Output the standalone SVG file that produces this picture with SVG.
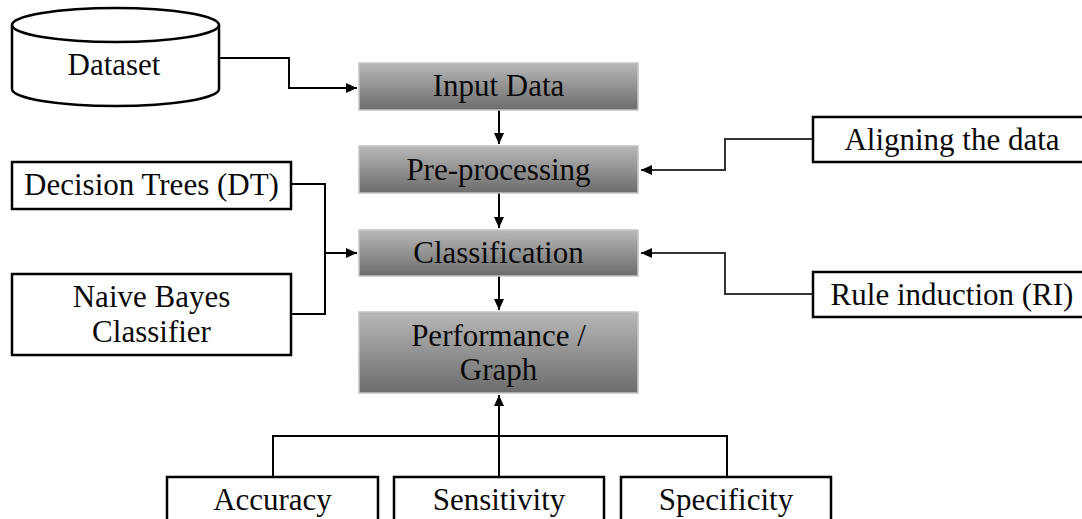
<svg xmlns="http://www.w3.org/2000/svg" width="1082" height="519" viewBox="0 0 1082 519">
<style>
.box{fill:#fff;stroke:#000;stroke-width:2.5}
.gbox{fill:url(#g);stroke:#c4c4c4;stroke-width:1.5}
.t{font-family:"Liberation Serif","Times New Roman",serif;font-size:31px;fill:#0a0a0a;text-anchor:middle}
.c{fill:none;stroke:#000;stroke-width:2}
.c2{fill:none;stroke:#333;stroke-width:2}
</style>
<defs>
<linearGradient id="g" x1="0" y1="0" x2="0" y2="1">
<stop offset="0" stop-color="#b8b8b8"/>
<stop offset="1" stop-color="#6c6c6c"/>
</linearGradient>
<marker id="a" markerUnits="userSpaceOnUse" markerWidth="12" markerHeight="10" refX="11" refY="5" orient="auto">
<path d="M0,0 L11,5 L0,10 Z" fill="#000"/>
</marker>
</defs>
<g id="connectors">
<path class="c" d="M219,58 H289 V88 H357" marker-end="url(#a)"/>
<path class="c" d="M499,110 V144" marker-end="url(#a)"/>
<path class="c2" d="M813,139 H725 V170 H641" marker-end="url(#a)"/>
<path class="c" d="M499,193 V228" marker-end="url(#a)"/>
<path class="c" d="M291,184 H325 V314 H291"/>
<path class="c" d="M325,253 H357" marker-end="url(#a)"/>
<path class="c2" d="M813,294 H725 V253 H641" marker-end="url(#a)"/>
<path class="c" d="M499,276 V310" marker-end="url(#a)"/>
<path class="c" d="M273,477 V436 H727 V477"/>
<path class="c" d="M499,477 V395" marker-end="url(#a)"/>
</g>
<g id="dataset">
<path class="box" d="M12,25 V89 A103.5,17 0 0 0 219,89 V25 A103.5,17 0 0 0 12,25 Z"/>
<path class="box" style="fill:none" d="M12,25 A103.5,17 0 0 0 219,25"/>
<text class="t" x="114" y="75">Dataset</text>
</g>
<g id="input-data">
<rect class="gbox" x="359" y="63" width="279" height="47"/>
<text class="t" x="498.5" y="96">Input Data</text>
</g>
<g id="pre-processing">
<rect class="gbox" x="359" y="146" width="279" height="47"/>
<text class="t" x="498.5" y="180">Pre-processing</text>
</g>
<g id="classification">
<rect class="gbox" x="359" y="230" width="279" height="46"/>
<text class="t" x="498.5" y="263">Classification</text>
</g>
<g id="performance">
<rect class="gbox" x="359" y="312" width="279" height="81"/>
<text class="t" x="498.5" y="346">Performance /</text>
<text class="t" x="498.5" y="380">Graph</text>
</g>
<g id="decision-trees">
<rect class="box" x="12" y="162" width="279" height="47"/>
<text class="t" x="151.5" y="195">Decision Trees (DT)</text>
</g>
<g id="naive-bayes">
<rect class="box" x="12" y="274" width="279" height="81"/>
<text class="t" x="151.5" y="307">Naive Bayes</text>
<text class="t" x="151.5" y="342">Classifier</text>
</g>
<g id="aligning">
<rect class="box" x="813" y="117" width="275" height="45"/>
<text class="t" x="952" y="150">Aligning the data</text>
</g>
<g id="rule-induction">
<rect class="box" x="813" y="272" width="275" height="45"/>
<text class="t" x="952" y="305">Rule induction (RI)</text>
</g>
<g id="accuracy">
<rect class="box" x="167" y="477" width="211" height="60"/>
<text class="t" x="272.5" y="510">Accuracy</text>
</g>
<g id="sensitivity">
<rect class="box" x="394" y="477" width="210" height="60"/>
<text class="t" x="499" y="510">Sensitivity</text>
</g>
<g id="specificity">
<rect class="box" x="621" y="477" width="210" height="60"/>
<text class="t" x="726" y="510">Specificity</text>
</g>
</svg>
